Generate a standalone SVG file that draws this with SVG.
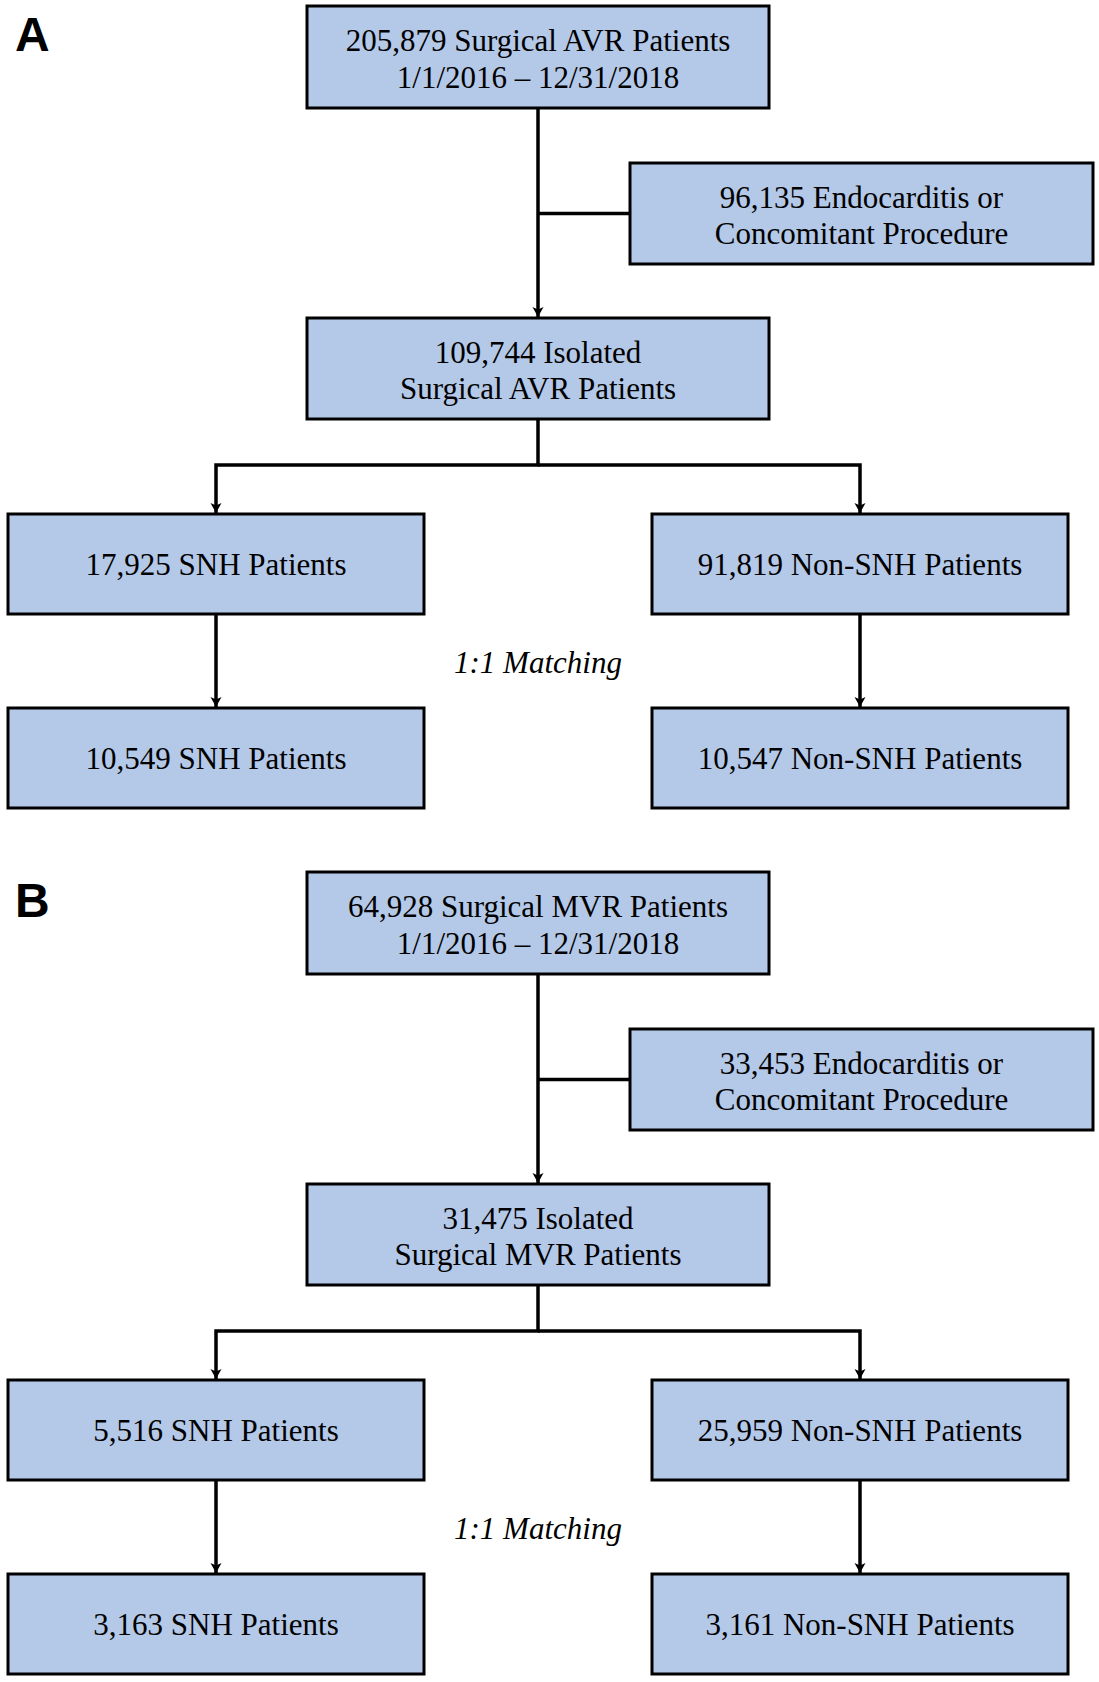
<svg xmlns="http://www.w3.org/2000/svg" width="1099" height="1682" viewBox="0 0 1099 1682">
<style>
.box{fill:#b4c8e8;stroke:#000;stroke-width:3}
.t{font-family:"Liberation Serif","Times New Roman",serif;font-size:31px;fill:#000;text-anchor:middle}
.it{font-style:italic}
.lbl{font-family:"Liberation Sans",Arial,sans-serif;font-weight:bold;font-size:48px;fill:#000}
.c{fill:none;stroke:#000;stroke-width:3.5}
</style>
<defs>
<marker id="arr" markerUnits="userSpaceOnUse" markerWidth="12" markerHeight="12" refX="10" refY="6" orient="auto">
<path d="M0,0.5 L10,6 L0,11.5 L2.5,6 z" fill="#000"/>
</marker>
</defs>
<text class="lbl" x="15" y="51">A</text>
<text class="lbl" x="15" y="917">B</text>
<g id="connectors">
<path class="c" d="M538,108 V317" marker-end="url(#arr)"/>
<path class="c" d="M538,213.5 H630"/>
<path class="c" d="M538,419 V465 H216 V513" marker-end="url(#arr)"/>
<path class="c" d="M538,465 H860 V513" marker-end="url(#arr)"/>
<path class="c" d="M216,614 V707" marker-end="url(#arr)"/>
<path class="c" d="M860,614 V707" marker-end="url(#arr)"/>
<path class="c" d="M538,974 V1183" marker-end="url(#arr)"/>
<path class="c" d="M538,1079.5 H630"/>
<path class="c" d="M538,1285 V1331 H216 V1379" marker-end="url(#arr)"/>
<path class="c" d="M538,1331 H860 V1379" marker-end="url(#arr)"/>
<path class="c" d="M216,1480 V1573" marker-end="url(#arr)"/>
<path class="c" d="M860,1480 V1573" marker-end="url(#arr)"/>
</g>
<g id="a1"><rect class="box" x="307" y="6" width="462" height="102"/><text class="t" x="538" y="51">205,879 Surgical AVR Patients</text><text class="t" x="538" y="87.5">1/1/2016 – 12/31/2018</text></g>
<g id="a2"><rect class="box" x="630" y="163" width="463" height="101"/><text class="t" x="861.5" y="207.5">96,135 Endocarditis or</text><text class="t" x="861.5" y="244">Concomitant Procedure</text></g>
<g id="a3"><rect class="box" x="307" y="318" width="462" height="101"/><text class="t" x="538" y="362.5">109,744 Isolated</text><text class="t" x="538" y="399">Surgical AVR Patients</text></g>
<g id="a4"><rect class="box" x="8" y="514" width="416" height="100"/><text class="t" x="216" y="575">17,925 SNH Patients</text></g>
<g id="a5"><rect class="box" x="652" y="514" width="416" height="100"/><text class="t" x="860" y="575">91,819 Non-SNH Patients</text></g>
<g id="a6"><rect class="box" x="8" y="708" width="416" height="100"/><text class="t" x="216" y="769">10,549 SNH Patients</text></g>
<g id="a7"><rect class="box" x="652" y="708" width="416" height="100"/><text class="t" x="860" y="769">10,547 Non-SNH Patients</text></g>
<text class="t it" x="538" y="673">1:1 Matching</text>
<g id="b1"><rect class="box" x="307" y="872" width="462" height="102"/><text class="t" x="538" y="917">64,928 Surgical MVR Patients</text><text class="t" x="538" y="953.5">1/1/2016 – 12/31/2018</text></g>
<g id="b2"><rect class="box" x="630" y="1029" width="463" height="101"/><text class="t" x="861.5" y="1073.5">33,453 Endocarditis or</text><text class="t" x="861.5" y="1110">Concomitant Procedure</text></g>
<g id="b3"><rect class="box" x="307" y="1184" width="462" height="101"/><text class="t" x="538" y="1228.5">31,475 Isolated</text><text class="t" x="538" y="1265">Surgical MVR Patients</text></g>
<g id="b4"><rect class="box" x="8" y="1380" width="416" height="100"/><text class="t" x="216" y="1441">5,516 SNH Patients</text></g>
<g id="b5"><rect class="box" x="652" y="1380" width="416" height="100"/><text class="t" x="860" y="1441">25,959 Non-SNH Patients</text></g>
<g id="b6"><rect class="box" x="8" y="1574" width="416" height="100"/><text class="t" x="216" y="1635">3,163 SNH Patients</text></g>
<g id="b7"><rect class="box" x="652" y="1574" width="416" height="100"/><text class="t" x="860" y="1635">3,161 Non-SNH Patients</text></g>
<text class="t it" x="538" y="1539">1:1 Matching</text>
</svg>
